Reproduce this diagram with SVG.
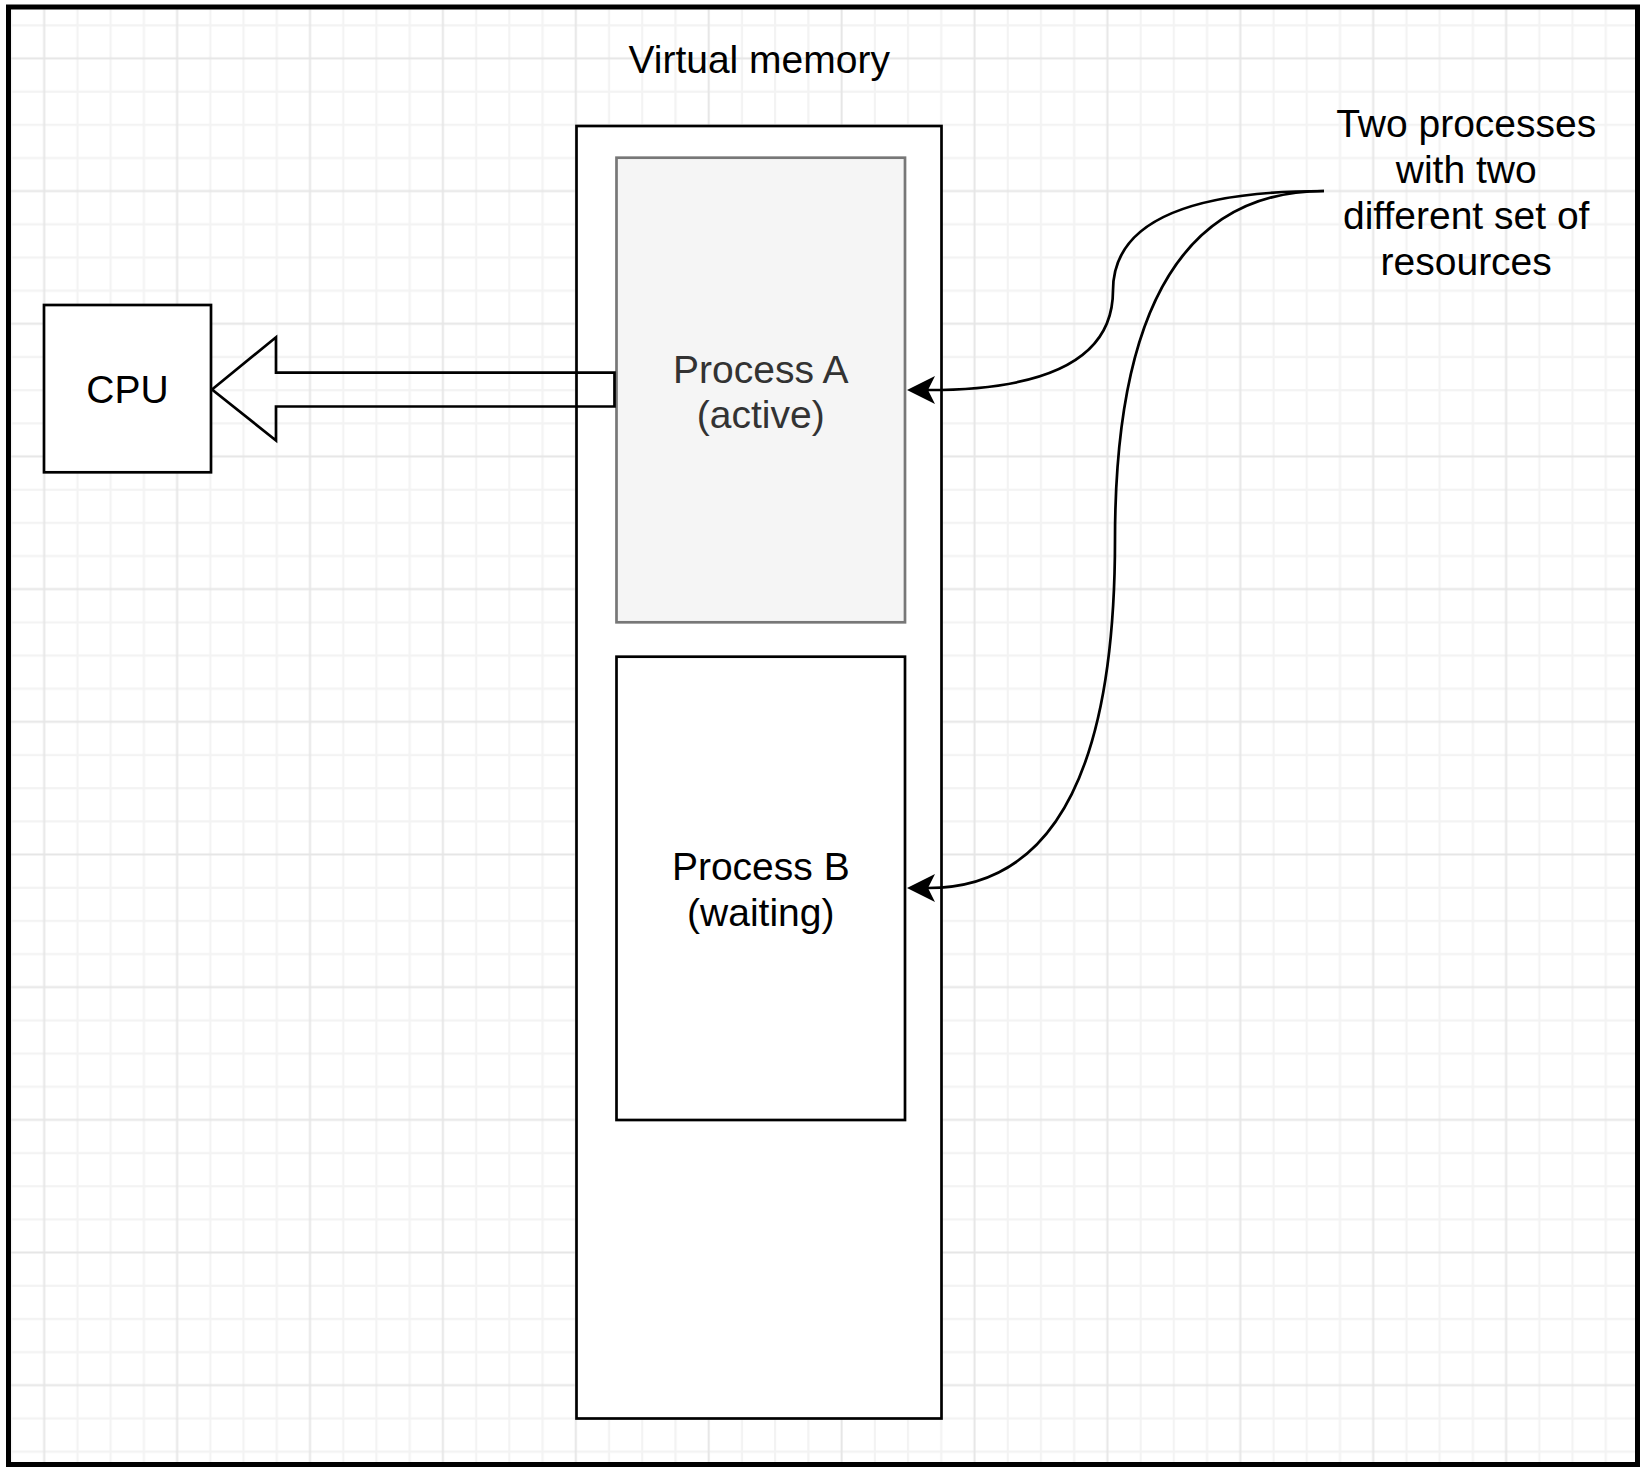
<svg xmlns="http://www.w3.org/2000/svg" width="1646" height="1475" viewBox="0 0 1646 1475">
  <style>
    .lbl { font-family: "Liberation Sans", Arial, Helvetica, sans-serif; font-size: 39px; fill: #000000; text-anchor: middle; }
    .gray { fill: #333333; }
    .box { fill: #ffffff; stroke: #000000; stroke-width: 2.7; }
    .edge { fill: none; stroke: #000000; stroke-width: 2.7; }
  </style>
  <defs>
    <pattern id="grid" patternUnits="userSpaceOnUse" x="27.59" y="41.92" width="132.9" height="132.68">
      <g stroke="#f3f3f3" stroke-width="2.2">
        <line x1="49.84" y1="0" x2="49.84" y2="132.68"/>
        <line x1="83.06" y1="0" x2="83.06" y2="132.68"/>
        <line x1="116.29" y1="0" x2="116.29" y2="132.68"/>
        <line x1="0" y1="49.75" x2="132.9" y2="49.75"/>
        <line x1="0" y1="82.93" x2="132.9" y2="82.93"/>
        <line x1="0" y1="116.1" x2="132.9" y2="116.1"/>
      </g>
      <g stroke="#e6e6e6" stroke-width="2">
        <line x1="16.61" y1="0" x2="16.61" y2="132.68"/>
        <line x1="0" y1="16.58" x2="132.9" y2="16.58"/>
      </g>
    </pattern>
    <marker id="classic" markerUnits="userSpaceOnUse" viewBox="0 0 28 28" markerWidth="28" markerHeight="28" refX="7" refY="14" orient="auto">
      <path d="M28,14 L0,0 L7,14 L0,28 Z" fill="#000000"/>
    </marker>
  </defs>

  <rect x="0" y="0" width="1646" height="1475" fill="#ffffff"/>
  <rect x="11" y="9.5" width="1624" height="1452.5" fill="url(#grid)"/>
  <rect id="frame" x="8.5" y="7" width="1629" height="1457.5" fill="none" stroke="#000000" stroke-width="5"/>

  <g id="virtual-memory">
    <rect class="box" x="576.5" y="126" width="365" height="1292.5"/>
    <text class="lbl" x="759.2" y="73.3">Virtual memory</text>
  </g>

  <g id="process-a">
    <rect x="616.5" y="157.7" width="288.5" height="464.6" fill="#f5f5f5" stroke="#777777" stroke-width="2.7"/>
    <text class="lbl gray" x="760.8" y="382.5">Process A</text>
    <text class="lbl gray" x="760.8" y="428">(active)</text>
  </g>

  <g id="process-b">
    <rect class="box" x="616.5" y="656.7" width="288.5" height="463.3"/>
    <text class="lbl" x="760.8" y="880.3">Process B</text>
    <text class="lbl" x="760.8" y="926.3">(waiting)</text>
  </g>

  <g id="cpu">
    <rect class="box" x="44" y="305" width="167" height="167.3"/>
    <text class="lbl" x="127.5" y="403.3">CPU</text>
  </g>

  <g id="note">
    <text class="lbl" x="1466.2" y="137">Two processes</text>
    <text class="lbl" x="1466.2" y="183.3">with two</text>
    <text class="lbl" x="1466.2" y="229.3">different set of</text>
    <text class="lbl" x="1466.2" y="275">resources</text>
  </g>

  <g id="connectors">
    <polygon class="edge" points="212,389.5 276,337.3 276,372.7 614.5,372.7 614.5,406.5 276,406.5 276,440.5" stroke-linejoin="miter"/>
    <path class="edge" d="M1324,191 Q1113,191 1113,290.5 Q1113,390 928,390" marker-end="url(#classic)"/>
    <path class="edge" d="M1324,191 Q1115,191 1115,539.5 Q1115,888 928,888" marker-end="url(#classic)"/>
  </g>
</svg>
